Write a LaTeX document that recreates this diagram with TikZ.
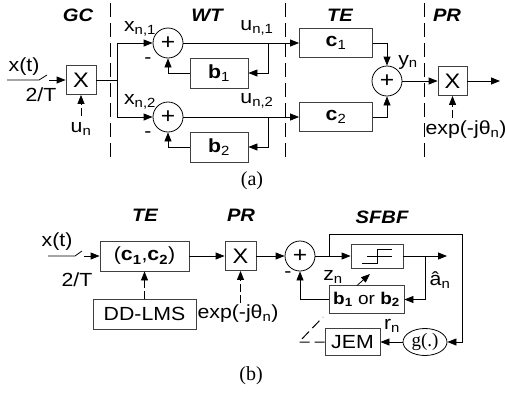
\documentclass[tikz,border=0pt]{standalone}
\usepackage{fontspec}
\setmainfont{Liberation Sans}[FakeStretch=1.12]
\newfontfamily\capfont{Liberation Serif}
\usepackage{tikz}
\usetikzlibrary{arrows.meta,positioning,shapes}

\begin{document}
\begin{tikzpicture}[x=1pt,y=-1pt,
	txt/.style={font=\fontsize{19}{22}\selectfont, inner sep=0pt},
	blk/.style={draw=black!75, line width=0.8pt, inner sep=0pt, font=\fontsize{19}{22}\selectfont},
	mixer/.style={blk, font=\fontsize{21}{22}\selectfont},
	sumc/.style={circle, draw, line width=0.8pt, minimum size=30pt, inner sep=0pt, font=\fontsize{22}{22}\selectfont},
	hdr/.style={font=\fontsize{18}{20}\selectfont\bfseries\itshape},
	capn/.style={font=\capfont\fontsize{20}{22}\selectfont},
	arr/.style={-{Triangle[length=9pt,width=7pt]}, line width=0.8pt},
	darr/.style={arr, dash pattern=on 8pt off 3pt},
	wire/.style={line width=0.8pt},
	divider/.style={line width=0.8pt, dash pattern=on 14pt off 6pt}]
	\useasboundingbox (0,0) rectangle (505,394);
	% (a) headers and dividers
	\node[hdr] (gc) at (78,15) {GC};
	\node[hdr] (wt) at (207,15) {WT};
	\node[hdr] (tea) at (340,15) {TE};
	\node[hdr] (pra) at (447,15) {PR};
	\draw[divider] (110,3) -- (110,162);
	\draw[divider] (285,3) -- (285,162);
	\draw[divider] (424,3) -- (424,162);
	% (a) gain control
	\coordinate (ina) at (7,80);
	\coordinate (swa) at (39,80);
	\coordinate (swb) at (47,75);
	\coordinate (swc) at (49,80);
	\node[mixer, minimum width=30pt, minimum height=29pt] (mixa) at (81,80) {X};
	\draw[wire] (ina) -- (swa) -- (swb);
	\draw[arr] (swc) -- (mixa.west);
	\node[txt] (xta) at (24,67) {x(t)};
	\node[txt] (sra) at (41,95) {2/T};
	\node[txt] (una) at (81,129) {u\textsubscript{n}};
	\coordinate (uny) at (81,116);
	\draw[darr] (uny) -- (mixa.south);
	% (a) whitening
	\coordinate (spl) at (117,80);
	\node[sumc] (suma1) at (168,43) {+};
	\node[sumc] (suma2) at (168,117) {+};
	\draw[wire] (mixa.east) -- (spl);
	\draw[arr] (spl) |- (suma1.west);
	\draw[arr] (spl) |- (suma2.west);
	\node[txt] (xa1) at (140,29) {x\textsubscript{n,1}};
	\node[txt] (xa2) at (140,102) {x\textsubscript{n,2}};
	\node[txt] (mia1) at (148,61) {-};
	\node[txt] (mia2) at (148,135) {-};
	\node[blk, minimum width=58pt, minimum height=30pt] (b1) at (219,73) {\textbf{b}\textsubscript{1}};
	\node[blk, minimum width=58pt, minimum height=30pt] (b2) at (219,147) {\textbf{b}\textsubscript{2}};
	\draw[arr] (b1.west) -| (suma1.south);
	\draw[arr] (b2.west) -| (suma2.south);
	\coordinate (tpa1) at (268,43);
	\coordinate (tpa2) at (268,117);
	\draw[arr] (tpa1) |- (b1.east);
	\draw[arr] (tpa2) |- (b2.east);
	\node[txt] (ua1) at (257,28) {u\textsubscript{n,1}};
	\node[txt] (ua2) at (257,101) {u\textsubscript{n,2}};
	% (a) equalizer
	\node[blk, minimum width=73pt, minimum height=29pt] (c1) at (336,43) {\textbf{c}\textsubscript{1}};
	\node[blk, minimum width=73pt, minimum height=29pt] (c2) at (336,117) {\textbf{c}\textsubscript{2}};
	\draw[arr] (suma1.east) -- (c1.west);
	\draw[arr] (suma2.east) -- (c2.west);
	\node[sumc] (sumt) at (387,81) {+};
	\draw[arr] (c1.east) -| (sumt.north);
	\draw[arr] (c2.east) -| (sumt.south);
	\node[txt] (yn) at (408,62) {y\textsubscript{n}};
	% (a) phase rotator
	\node[mixer, minimum width=29pt, minimum height=29pt] (mixp) at (452.5,81) {X};
	\coordinate (outa) at (500,81);
	\draw[arr] (sumt.east) -- (mixp.west);
	\draw[arr] (mixp.east) -- (outa);
	\node[txt] (expa) at (466,130) {exp(-jθ\textsubscript{n})};
	\coordinate (epa) at (452.5,118);
	\draw[darr] (epa) -- (mixp.south);
	\node[capn] (capa) at (252,181) {(a)};
	% (b) headers
	\node[hdr] (teb) at (145,215) {TE};
	\node[hdr] (prb) at (241,215) {PR};
	\node[hdr] (sfbf) at (382,217) {SFBF};
	% (b) equalizer and rotator
	\coordinate (inb) at (48,256);
	\coordinate (swd) at (75,256);
	\coordinate (swe) at (82,251);
	\coordinate (swf) at (84,256);
	\node[blk, minimum width=89pt, minimum height=30pt] (cc) at (144.5,256) {(\textbf{c\textsubscript{1}},\textbf{c\textsubscript{2}})};
	\draw[wire] (inb) -- (swd) -- (swe);
	\draw[arr] (swf) -- (cc.west);
	\node[txt] (xtb) at (57,242) {x(t)};
	\node[txt] (srb) at (77,280) {2/T};
	\node[blk, minimum width=103pt, minimum height=30pt] (lms) at (144.5,314) {DD-LMS};
	\draw[darr] (lms.north) -- (cc.south);
	\node[mixer, minimum width=31pt, minimum height=29pt] (mixb) at (240.5,256) {X};
	\draw[arr] (cc.east) -- (mixb.west);
	\node[txt] (expb) at (238,314) {exp(-jθ\textsubscript{n})};
	\coordinate (epb) at (240.5,303);
	\draw[darr] (epb) -- (mixb.south);
	% (b) feedback filter
	\node[sumc] (sumb) at (300,256) {+};
	\draw[arr] (mixb.east) -- (sumb.west);
	\node[blk, minimum width=52pt, minimum height=24pt] (slc) at (377,256) {};
	\draw[wire] (362,263) -- (377,263) -- (377,249) -- (392,249);
	\draw[wire] (367,256) -- (392,256);
	\draw[arr] (sumb.east) -- (slc.west);
	\node[ellipse, draw, line width=0.8pt, minimum width=44pt, minimum height=27pt, inner sep=0pt, font=\capfont\fontsize{19}{22}\selectfont] (gfun) at (425,342) {g(.)};
	\coordinate (tpb) at (329,256);
	\coordinate (crn) at (462,234);
	\draw[arr] (tpb) |- (crn) |- (gfun.east);
	\coordinate (ahat) at (447,256);
	\draw[arr] (slc.east) -- (ahat);
	\node[blk, minimum width=75pt, minimum height=28pt, font=\fontsize{17}{20}\selectfont] (bb) at (366.5,299.5) {\textbf{b\textsubscript{1}} or \textbf{b\textsubscript{2}}};
	\coordinate (tpc) at (425,256);
	\draw[arr] (tpc) |- (bb.east);
	\draw[arr] (bb.west) -| (sumb.south);
	\node[txt] (mib) at (288,275) {-};
	\node[txt] (zn) at (333,277) {z\textsubscript{n}};
	\node[txt] (an) at (440,280) {\^{a}\textsubscript{n}};
	\coordinate (adp) at (357,285.5);
	\coordinate (adq) at (370,274);
	\draw[arr] (adp) -- (adq);
	\node[blk, minimum width=55pt, minimum height=27pt] (jem) at (352.5,342) {JEM};
	\draw[arr] (gfun.west) -- (jem.east);
	\node[txt] (rn) at (392,326) {r\textsubscript{n}};
	\coordinate (jc) at (299,342);
	\coordinate (jd) at (323,317);
	\draw[line width=1pt, dash pattern=on 10pt off 5pt] (jem.west) -- (jc) -- (jd);
	\node[capn] (capb) at (251,376) {(b)};
\end{tikzpicture}
\end{document}
